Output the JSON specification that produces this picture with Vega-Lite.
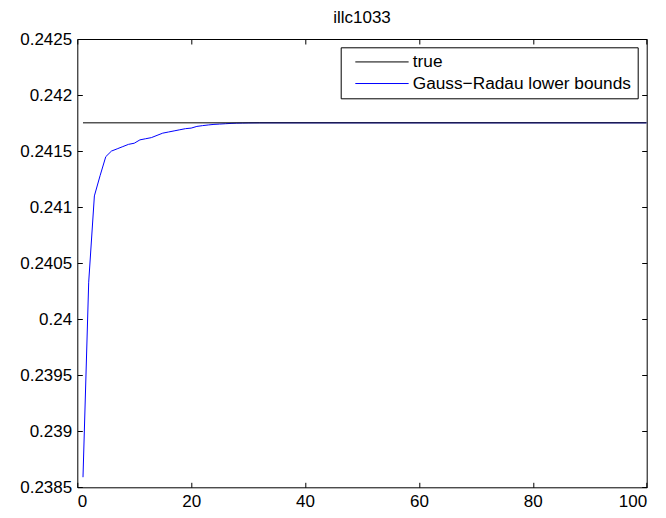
{
  "$schema": "https://vega.github.io/schema/vega-lite/v6.json",
  "autosize": {"type": "none"},
  "width": 569.4,
  "height": 448.3,
  "padding": {"left": 77.3, "top": 39, "right": 19.3, "bottom": 30.7},
  "background": "white",
  "title": {"text": "illc1033", "font": "Liberation Sans", "fontSize": 17, "fontWeight": "normal", "color": "black", "baseline": "alphabetic", "offset": -9.8, "anchor": "middle", "frame": "group"},
  "config": {
    "view": {"stroke": "black", "strokeWidth": 1},
    "axis": {"labelFont": "Liberation Sans", "labelFontSize": 17, "labelColor": "black", "tickColor": "black", "domainColor": "black", "grid": false, "title": null, "tickSize": -5},
    "legend": {"labelFont": "Liberation Sans", "labelFontSize": 17.25, "labelColor": "black", "labelLimit": 0}
  },
  "data": {"values": [
    {"x": 1, "value": 0.23859, "series": "Gauss−Radau lower bounds"},
    {"x": 2, "value": 0.24033, "series": "Gauss−Radau lower bounds"},
    {"x": 3, "value": 0.24110, "series": "Gauss−Radau lower bounds"},
    {"x": 4, "value": 0.24128, "series": "Gauss−Radau lower bounds"},
    {"x": 5, "value": 0.24145, "series": "Gauss−Radau lower bounds"},
    {"x": 6, "value": 0.24150, "series": "Gauss−Radau lower bounds"},
    {"x": 7, "value": 0.24152, "series": "Gauss−Radau lower bounds"},
    {"x": 8, "value": 0.24154, "series": "Gauss−Radau lower bounds"},
    {"x": 9, "value": 0.24156, "series": "Gauss−Radau lower bounds"},
    {"x": 10, "value": 0.24157, "series": "Gauss−Radau lower bounds"},
    {"x": 11, "value": 0.24160, "series": "Gauss−Radau lower bounds"},
    {"x": 12, "value": 0.24161, "series": "Gauss−Radau lower bounds"},
    {"x": 13, "value": 0.24162, "series": "Gauss−Radau lower bounds"},
    {"x": 14, "value": 0.24164, "series": "Gauss−Radau lower bounds"},
    {"x": 15, "value": 0.24166, "series": "Gauss−Radau lower bounds"},
    {"x": 16, "value": 0.24167, "series": "Gauss−Radau lower bounds"},
    {"x": 17, "value": 0.24168, "series": "Gauss−Radau lower bounds"},
    {"x": 18, "value": 0.24169, "series": "Gauss−Radau lower bounds"},
    {"x": 19, "value": 0.24170, "series": "Gauss−Radau lower bounds"},
    {"x": 20, "value": 0.241705, "series": "Gauss−Radau lower bounds"},
    {"x": 21, "value": 0.24172, "series": "Gauss−Radau lower bounds"},
    {"x": 22, "value": 0.241727, "series": "Gauss−Radau lower bounds"},
    {"x": 23, "value": 0.241733, "series": "Gauss−Radau lower bounds"},
    {"x": 24, "value": 0.241738, "series": "Gauss−Radau lower bounds"},
    {"x": 25, "value": 0.241741, "series": "Gauss−Radau lower bounds"},
    {"x": 26, "value": 0.241744, "series": "Gauss−Radau lower bounds"},
    {"x": 27, "value": 0.241747, "series": "Gauss−Radau lower bounds"},
    {"x": 28, "value": 0.241749, "series": "Gauss−Radau lower bounds"},
    {"x": 29, "value": 0.24175, "series": "Gauss−Radau lower bounds"},
    {"x": 30, "value": 0.241751, "series": "Gauss−Radau lower bounds"},
    {"x": 32, "value": 0.241752, "series": "Gauss−Radau lower bounds"},
    {"x": 100, "value": 0.241752, "series": "Gauss−Radau lower bounds"},
    {"x": 1, "value": 0.241752, "series": "true"},
    {"x": 100, "value": 0.241752, "series": "true"}
  ]},
  "layer": [
    {
      "transform": [{"filter": "datum.series !== 'true'"}],
      "mark": {"type": "line", "strokeWidth": 1, "clip": true},
      "encoding": {
        "x": {"field": "x", "type": "quantitative", "scale": {"domain": [0, 100], "nice": false, "zero": false},
              "axis": {"orient": "bottom", "values": [0, 20, 40, 60, 80, 100], "labelPadding": 11, "domain": false}},
        "y": {"field": "value", "type": "quantitative", "scale": {"domain": [0.2385, 0.2425], "nice": false, "zero": false},
              "axis": {"orient": "left", "values": [0.2385, 0.239, 0.2395, 0.24, 0.2405, 0.241, 0.2415, 0.242, 0.2425], "format": ".4~f", "labelPadding": 10.6, "domain": false}},
        "color": {"field": "series", "type": "nominal",
                  "scale": {"domain": ["true", "Gauss−Radau lower bounds"], "range": ["#000000", "#0000ff"]},
                  "legend": {"title": null, "orient": "none", "legendX": 263.4, "legendY": 8.3, "fillColor": "white", "strokeColor": "black", "padding": 6, "symbolType": "M-1,0H9.66", "symbolSize": 100, "symbolStrokeWidth": 1, "symbolOffset": 5, "labelOffset": 43.8, "rowPadding": 3.6}}
      }
    },
    {
      "transform": [{"filter": "datum.series === 'true'"}],
      "mark": {"type": "line", "strokeWidth": 1, "clip": true},
      "encoding": {
        "x": {"field": "x", "type": "quantitative", "axis": {"orient": "top", "values": [0, 20, 40, 60, 80, 100], "labels": false, "domain": false}},
        "y": {"field": "value", "type": "quantitative", "axis": {"orient": "right", "values": [0.2385, 0.239, 0.2395, 0.24, 0.2405, 0.241, 0.2415, 0.242, 0.2425], "labels": false, "domain": false}},
        "color": {"field": "series", "type": "nominal"}
      }
    }
  ]
}
